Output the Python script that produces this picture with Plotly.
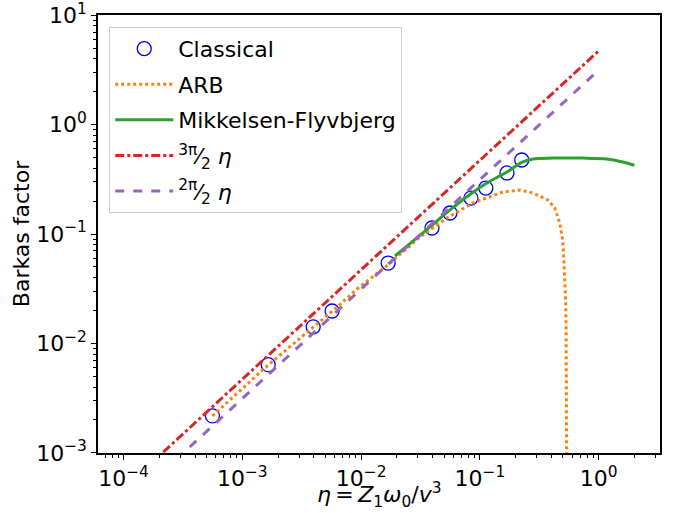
import numpy as np
import plotly.graph_objects as go

# Classical (open circles)
classical_eta = [5.6e-4, 1.65e-3, 3.95e-3, 5.7e-3, 0.0169, 0.0395, 0.056, 0.084, 0.112, 0.169, 0.225]
classical_b = [2.18e-3, 6.4e-3, 0.0142, 0.0198, 0.0543, 0.1135, 0.1556, 0.213, 0.263, 0.361, 0.474]

# ARB (dotted)
arb_eta = [5.6e-4, 1.65e-3, 3.95e-3, 5.7e-3, 9.44e-3, 0.0136, 0.0169, 0.0313, 0.0461, 0.0528, 0.0873,
           0.156, 0.217, 0.279, 0.372, 0.426, 0.470, 0.498, 0.508, 0.520, 0.528, 0.532, 0.536, 0.538, 0.540]
arb_b = [2.18e-3, 6.35e-3, 0.0141, 0.0196, 0.0321, 0.0440, 0.0525, 0.094, 0.126, 0.140, 0.192,
         0.242, 0.252, 0.237, 0.205, 0.173, 0.126, 0.088, 0.060, 0.0340, 0.0234, 0.0120, 0.0050, 0.00114, 0.0002]

# Mikkelsen-Flyvbjerg (solid)
mf_eta = [0.0193, 0.0300, 0.038, 0.056, 0.0857, 0.1146, 0.1687, 0.2298, 0.279, 0.41, 0.734, 1.17, 1.59, 2.0]
mf_b = [0.0630, 0.0935, 0.116, 0.166, 0.237, 0.292, 0.368, 0.455, 0.484, 0.494, 0.494, 0.484, 0.455, 0.425]

# Asymptotic lines
line_eta = [1e-4, 1.0]
coef_a = 3 * np.pi / 2
coef_b = 2 * np.pi / 2

x_tickvals = [1e-4, 1e-3, 1e-2, 1e-1, 1e0]
x_ticktext = ["10<sup>−4</sup>", "10<sup>−3</sup>", "10<sup>−2</sup>", "10<sup>−1</sup>", "10<sup>0</sup>"]
y_tickvals = [1e-3, 1e-2, 1e-1, 1e0, 1e1]
y_ticktext = ["10<sup>−3</sup>", "10<sup>−2</sup>", "10<sup>−1</sup>", "10<sup>0</sup>", "10<sup>1</sup>"]
x_title = "<i>η</i>\u2009=\u2009<i>Z</i><sub>1</sub><i>ω</i><sub>0</sub>/<i>v</i><sup>3</sup>"
y_title = "Barkas factor"

minor_x = [m * 10.0 ** k for k in range(-5, 1) for m in range(2, 10)]
minor_y = [m * 10.0 ** k for k in range(-4, 1) for m in range(2, 10)]

FONT = "DejaVu Sans"

fig = go.Figure()
fig.add_trace(go.Scatter(
    x=classical_eta, y=classical_b, mode="markers", name="Classical", legendgroup="a",
    marker=dict(symbol="circle-open", size=14, color="blue", line=dict(width=1.3, color="blue")),
))
fig.add_trace(go.Scatter(
    x=arb_eta, y=arb_b, mode="lines", name="ARB", legendgroup="b",
    line=dict(color="#ff7f0e", width=3, dash="dot"),
))
fig.add_trace(go.Scatter(
    x=mf_eta, y=mf_b, mode="lines", name="Mikkelsen-Flyvbjerg", legendgroup="c",
    line=dict(color="#2ca02c", width=3, shape="spline"),
))
fig.add_trace(go.Scatter(
    x=line_eta, y=[coef_a * e for e in line_eta], mode="lines", legendgroup="d",
    name="<sup>3π</sup>⁄<sub>2</sub> <i>η</i>",
    line=dict(color="#d62728", width=3, dash="dashdot"),
))
fig.add_trace(go.Scatter(
    x=line_eta, y=[coef_b * e for e in line_eta], mode="lines", legendgroup="e",
    name="<sup>2π</sup>⁄<sub>2</sub> <i>η</i>",
    line=dict(color="#9467bd", width=3, dash="dash"),
))

axis_common = dict(
    type="log", showgrid=False, zeroline=False, automargin=False,
    showline=True, linecolor="black", linewidth=1.5, mirror=True,
    ticks="outside", ticklen=5, tickwidth=1.2, tickcolor="black",
    ticklabeloverflow="allow",
    tickfont=dict(family=FONT, size=22, color="black"),
)

fig.update_xaxes(
    **axis_common, range=[-4.215, 0.516], tickmode="array",
    tickvals=x_tickvals, ticktext=x_ticktext,
    minor=dict(tickmode="array", tickvals=minor_x, ticks="outside", ticklen=3, tickcolor="black", tickwidth=1),
)
fig.update_yaxes(
    **axis_common, range=[-3.0005, 1.0005], tickmode="array",
    tickvals=y_tickvals, ticktext=y_ticktext,
    minor=dict(tickmode="array", tickvals=minor_y, ticks="outside", ticklen=3, tickcolor="black", tickwidth=1),
    title=dict(text=y_title, font=dict(family=FONT, size=22, color="black"), standoff=0),
)

fig.add_annotation(
    text=x_title, xref="paper", yref="paper", x=0.5, y=-0.097,
    xanchor="center", yanchor="middle", showarrow=False, borderpad=0,
    font=dict(family=FONT, size=22, color="black"),
)

fig.update_layout(
    width=674, height=513,
    margin=dict(l=98, r=14, t=15, b=60),
    paper_bgcolor="white", plot_bgcolor="white",
    font=dict(family=FONT, size=22, color="black"),
    showlegend=True,
    legend=dict(
        x=0.02, y=0.973, xanchor="left", yanchor="top",
        bgcolor="rgba(255,255,255,0.8)", bordercolor="#cccccc", borderwidth=1,
        font=dict(family=FONT, size=22, color="black"),
        tracegroupgap=4, itemwidth=58,
    ),
)

fig.write_html("out.html", config={"displayModeBar": False},
               post_script="document.body.style.margin='0';")
